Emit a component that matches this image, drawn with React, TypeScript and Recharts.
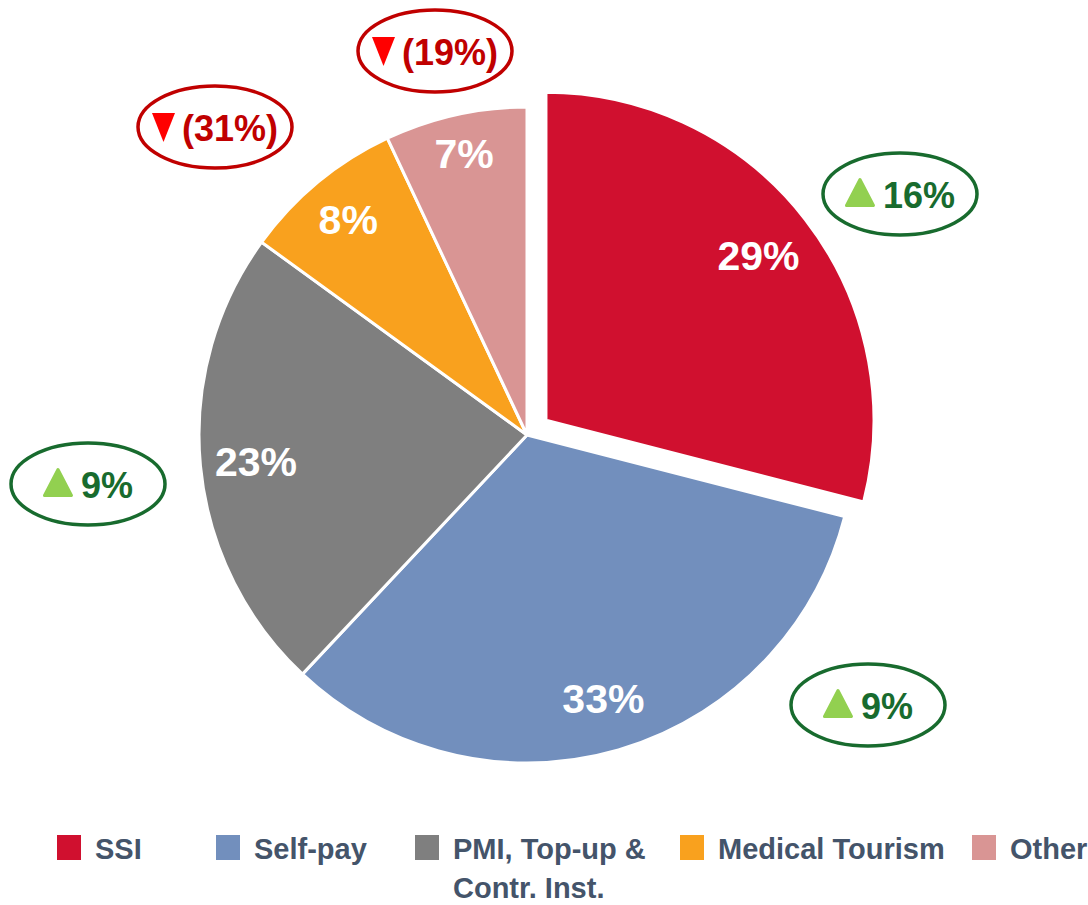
import React from 'react';
import { PieChart, Pie, Cell, Legend } from 'recharts';

// Revenue mix by payer, with year-on-year change shown in the ovals
const CATEGORIES = ['SSI', 'Self-pay', 'PMI, Top-up & Contr. Inst.', 'Medical Tourism', 'Other'];
const SHARES = [29, 33, 23, 8, 7];
const CHANGES = ['16%', '9%', '9%', '(31%)', '(19%)'];
const CHANGE_UP = [true, true, true, false, false];
const COLORS = ['#D0102F', '#728FBD', '#7F7F7F', '#F9A11E', '#D99594'];

const data = CATEGORIES.map((name, i) => ({ name, value: SHARES[i] }));

// layout
const FONT = "'Liberation Sans', Arial, sans-serif";
const CX = 527;
const CY = 435;
const R = 328;
const EXPLODE = 24;
const LABEL_RADIUS = [0.82, 0.835, 0.83, 0.855, 0.88];
const BADGE_OFFSETS = [
  [373, -241],
  [341, 270],
  [-439, 49],
  [-312, -308],
  [-92, -384],
];
const LEGEND_X = [57, 216, 415, 680, 972];
const LEGEND_TOP = 830;

const RAD = Math.PI / 180;
const total = SHARES.reduce((a, b) => a + b, 0);
const ssiMid = 90 - (360 * SHARES[0]) / total / 2;
const EX_DX = EXPLODE * Math.cos(ssiMid * RAD);
const EX_DY = -EXPLODE * Math.sin(ssiMid * RAD);

// rough Arial-bold advance widths, enough to centre the badge content
const CHAR_W: Record<string, number> = { '(': 0.333, ')': 0.333, '%': 0.889 };
const textWidth = (s: string, size: number) =>
  s.split('').reduce((w, c) => w + (CHAR_W[c] ?? 0.556), 0) * size;

const Badge = ({ index }: { index: number }) => {
  const up = CHANGE_UP[index];
  const [dx, dy] = BADGE_OFFSETS[index];
  const bx = CX + dx;
  const by = CY + dy;
  const ring = up ? '#186B2E' : '#C00000';
  const triW = up ? 27 : 23;
  const gap = up ? 11 : 7;
  const w = triW + gap + textWidth(CHANGES[index], 36);
  const x0 = bx - w / 2;
  const tri = up
    ? `M${x0 + 1.5},${by + 11.5} L${x0 + triW / 2 + 1.5},${by - 14.5} L${x0 + triW + 1.5},${by + 11.5} Z`
    : `M${x0},${by - 14} L${x0 + triW},${by - 14} L${x0 + triW / 2},${by + 15} Z`;
  return (
    <g>
      <ellipse cx={bx} cy={by} rx={77} ry={41} fill="none" stroke={ring} strokeWidth={3.5} />
      <path
        d={tri}
        fill={up ? '#92D050' : '#FF0000'}
        stroke={up ? '#92D050' : 'none'}
        strokeWidth={up ? 3 : 0}
        strokeLinejoin="round"
      />
      <text
        x={x0 + triW + gap}
        y={by + 14}
        fontSize={36}
        fontWeight="bold"
        fontFamily={FONT}
        fill={ring}
      >
        {CHANGES[index]}
      </text>
    </g>
  );
};

const makeLabel = (exploded: boolean) => (props: any) => {
  const { cx, cy, midAngle, outerRadius, index } = props;
  if ((index === 0) !== exploded) return null;
  const r = outerRadius * LABEL_RADIUS[index];
  const x = cx + r * Math.cos(-midAngle * RAD);
  const y = cy + r * Math.sin(-midAngle * RAD);
  return (
    <g>
      <text
        x={x}
        y={y + 15}
        textAnchor="middle"
        fill="#FFFFFF"
        fontSize={41}
        fontWeight="bold"
        fontFamily={FONT}
      >
        {SHARES[index]}%
      </text>
      <Badge index={index} />
    </g>
  );
};

const renderLegend = () => (
  <div
    style={{
      position: 'relative',
      height: 75,
      fontFamily: FONT,
      fontSize: 29,
      fontWeight: 'bold',
      color: '#44546A',
      lineHeight: '39px',
    }}
  >
    {CATEGORIES.map((name, i) => {
      const next = i < LEGEND_X.length - 1 ? LEGEND_X[i + 1] : 1088;
      return (
        <div key={name} style={{ position: 'absolute', left: LEGEND_X[i], top: 0 }}>
          <span
            style={{
              position: 'absolute',
              left: 0,
              top: 5,
              width: 24,
              height: 25,
              background: COLORS[i],
            }}
          />
          <div style={{ marginLeft: 38, width: next - LEGEND_X[i] - 38 }}>{name}</div>
        </div>
      );
    })}
  </div>
);

export default function App() {
  return (
    <div style={{ position: 'absolute', left: 0, top: 0, width: 1088, height: 905, background: '#fff' }}>
      <PieChart width={1088} height={905} margin={{ top: 0, right: 0, bottom: 0, left: 0 }}>
        <Pie
          data={data}
          dataKey="value"
          nameKey="name"
          cx={CX}
          cy={CY}
          outerRadius={R}
          startAngle={90}
          endAngle={-270}
          stroke="#FFFFFF"
          strokeWidth={3}
          labelLine={false}
          label={makeLabel(false)}
          isAnimationActive={false}
        >
          {data.map((d, i) => (
            <Cell key={d.name} fill={i === 0 ? 'none' : COLORS[i]} stroke={i === 0 ? 'none' : '#FFFFFF'} />
          ))}
        </Pie>
        <Pie
          data={data}
          dataKey="value"
          nameKey="name"
          cx={CX + EX_DX}
          cy={CY + EX_DY}
          outerRadius={R}
          startAngle={90}
          endAngle={-270}
          strokeWidth={3}
          labelLine={false}
          label={makeLabel(true)}
          legendType="none"
          isAnimationActive={false}
        >
          {data.map((d, i) => (
            <Cell key={d.name} fill={i === 0 ? COLORS[0] : 'none'} stroke={i === 0 ? '#FFFFFF' : 'none'} />
          ))}
        </Pie>
        <Legend
          content={renderLegend}
          wrapperStyle={{ left: 0, top: LEGEND_TOP, width: 1088, height: 75, bottom: 'auto' }}
        />
      </PieChart>
    </div>
  );
}
